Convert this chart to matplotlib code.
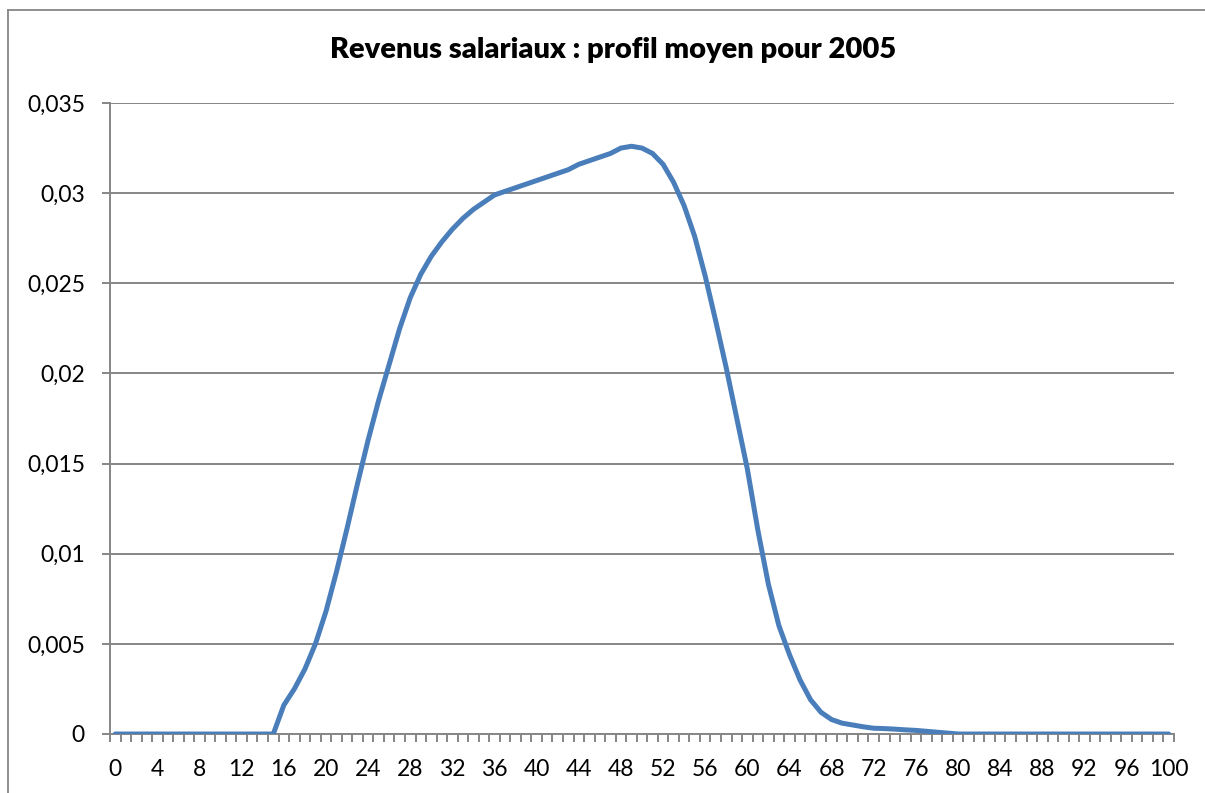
import matplotlib.pyplot as plt
import numpy as np
from matplotlib.lines import Line2D
from matplotlib.ticker import FuncFormatter

# Ages 0..100 and mean wage income profile
ages = np.arange(0, 101)
profile = [0.0] * 16 + [
    0.0016, 0.0025, 0.0036, 0.0050, 0.0068, 0.0090, 0.0114, 0.0139, 0.0163, 0.0185,  # 16-25
    0.0205, 0.0225, 0.0242, 0.0255, 0.0265, 0.0273, 0.0280, 0.0286, 0.0291, 0.0295,  # 26-35
    0.0299, 0.0301, 0.0303, 0.0305, 0.0307, 0.0309, 0.0311, 0.0313, 0.0316, 0.0318,  # 36-45
    0.0320, 0.0322, 0.0325, 0.0326, 0.0325, 0.0322, 0.0316, 0.0306, 0.0293, 0.0276,  # 46-55
    0.0254, 0.0229, 0.0203, 0.0175, 0.0147, 0.0113, 0.0083, 0.0060, 0.0044, 0.0030,  # 56-65
    0.0019, 0.0012, 0.0008, 0.0006, 0.0005, 0.0004, 0.00032, 0.0003, 0.00027, 0.00023,  # 66-75
    0.0002, 0.00015, 0.0001, 0.00005,  # 76-79
] + [0.0] * 21

title = 'Revenus salariaux : profil moyen pour 2005'
x_label_ticks = list(range(0, 101, 4))
y_ticks = [0, 0.005, 0.01, 0.015, 0.02, 0.025, 0.03, 0.035]

plt.rcParams['font.family'] = ['Lato', 'DejaVu Sans']

W, H = 1205, 793
fig = plt.figure(figsize=(W / 100, H / 100), dpi=100)
ax = fig.add_axes([110 / W, 1 - 734 / H, (1174 - 110) / W, (734 - 103) / H])

grey = '#868686'

ax.plot(ages, profile, color='#4A7EBB', linewidth=3.6, solid_capstyle='round', zorder=3)

ax.set_xlim(-0.5, 100.5)
ax.set_ylim(0, 0.035)

ax.set_yticks(y_ticks)
ax.yaxis.set_major_formatter(FuncFormatter(lambda v, p: '0' if v == 0 else f'{v:.3f}'.rstrip('0').replace('.', ',')))
ax.yaxis.grid(True, color=grey, linewidth=1.4)
ax.set_axisbelow(True)

ax.set_xticks(x_label_ticks)
ax.set_xticks(np.arange(-0.5, 101, 1), minor=True)
ax.tick_params(axis='x', which='major', length=0, pad=18, labelsize=16.5)
ax.tick_params(axis='x', which='minor', length=6, width=1.4, color=grey, direction='out')
ax.tick_params(axis='y', length=6, width=1.4, color=grey, pad=12, labelsize=16.5)

for s in ['top', 'right']:
    ax.spines[s].set_visible(False)
for s in ['left', 'bottom']:
    ax.spines[s].set_color(grey)
    ax.spines[s].set_linewidth(1.4)

fig.text(613 / W, 1 - 50 / H, title, ha='center', va='center', fontsize=21, fontweight='heavy')

# chart area border (left and top edges visible)
fig.add_artist(Line2D([8 / W, 8 / W], [0, 1 - 10 / H], color=grey, linewidth=1.3))
fig.add_artist(Line2D([8 / W, 1], [1 - 10 / H, 1 - 10 / H], color=grey, linewidth=1.3))

fig.savefig('out.png', dpi=100)
